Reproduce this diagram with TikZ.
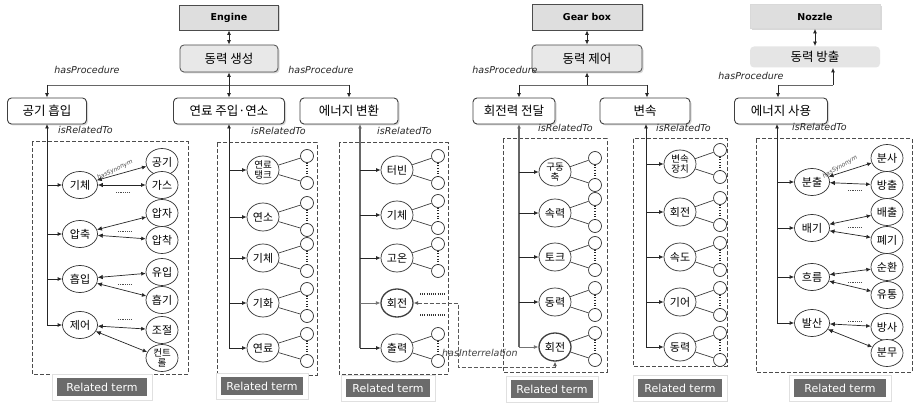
\documentclass[tikz,border=0pt]{standalone}
\usepackage{fontspec}
\setmainfont{DejaVu Sans}
\newfontfamily\krfont{Noto Sans CJK KR}
\usetikzlibrary{arrows.meta,shapes.geometric,shadows}

\tikzset{
  shd/.style={drop shadow={opacity=0.3, shadow xshift=1.5pt, shadow yshift=-1.5pt}},
  comp/.style={draw=black!70, line width=0.8pt, fill=black!13, minimum width=99pt,
    minimum height=25pt, inner sep=0pt, font=\bfseries\fontsize{9.5}{11}\selectfont, shd},
  fbase/.style={draw=black!70, line width=0.8pt, rounded corners=4pt, fill=black!9,
    minimum height=27pt, inner sep=0pt, font=\krfont\fontsize{12.5}{14}\selectfont},
  func/.style={fbase, shd},
  proc/.style={draw=black!75, line width=0.9pt, rounded corners=4pt, fill=white,
    minimum height=26pt, inner sep=0pt, font=\krfont\fontsize{12.5}{14}\selectfont, shd},
  ell/.style={ellipse, draw=black!80, line width=0.7pt, fill=white, inner sep=0pt,
    minimum width=32pt, minimum height=28pt, align=center,
    font=\krfont\fontsize{11}{11}\selectfont},
  ellB/.style={ell, minimum width=35pt, minimum height=27pt},
  ellS/.style={ell, minimum width=32pt, minimum height=27pt},
  one/.style={},
  two/.style={font=\krfont\fontsize{9.5}{9.5}\selectfont},
  hot/.style={line width=1.3pt, draw=black!75},
  sm/.style={circle, draw=black!80, line width=0.7pt, fill=white, minimum size=13pt, inner sep=0pt},
  relbox/.style={draw=black!70, line width=1pt, dash pattern=on 4pt off 2pt},
  link/.style={draw=black!75, line width=0.7pt},
  vdots/.style={draw=black!85, line width=1.2pt, dash pattern=on 1pt off 1.6pt},
  dotrow/.style={draw=black!70, line width=0.6pt, dash pattern=on 0.6pt off 1.2pt},
  hdots/.style={draw=black!80, line width=1.1pt, dash pattern=on 1pt off 1.2pt},
  arr/.style={-{Latex[length=4.5pt,width=4pt]}, line width=0.8pt, draw=black!85},
  rarr/.style={{Latex[length=4.5pt,width=4pt]}-, line width=0.8pt, draw=black!85},
  darr/.style={{Latex[length=4.5pt,width=4pt]}-{Latex[length=4.5pt,width=4pt]}, line width=0.8pt, draw=black!85},
  syn/.style={{Latex[length=5pt,width=4.5pt]}-{Latex[length=4.5pt,width=4pt]}, line width=0.7pt, draw=black!85},
  grey/.style={draw=black!55},
  trunkg/.style={line width=1.2pt, draw=black!60},
  hline/.style={line width=0.8pt, draw=black!60},
  irl/.style={{Latex[length=4.5pt,width=4pt]}-{Latex[length=4.5pt,width=4pt]},
    dash pattern=on 4pt off 2pt, line width=0.9pt, draw=black!65},
  lbl/.style={font=\itshape\fontsize{9.5}{10}\selectfont, inner sep=0pt, text=black!85},
  synlbl/.style={font=\itshape\fontsize{6}{7}\selectfont, inner sep=0pt, text=black!70},
  tframe/.style={fill=white, draw=black!12, line width=0.4pt, minimum width=100pt,
    minimum height=26pt, drop shadow={opacity=0.25, shadow xshift=1.2pt, shadow yshift=-1.2pt}},
  tlabel/.style={fill=black!58, text=white, minimum width=86pt, minimum height=18pt,
    inner sep=0pt, font=\fontsize{11}{12}\selectfont},
}

\begin{document}
\begin{tikzpicture}[x=1pt,y=-1pt]
\useasboundingbox[fill=white] (0,0) rectangle (917,406);

% ---------- Engine ----------
\node[comp] (eng) at (229,17.5) {Engine};
\node[func, minimum width=98pt] (f1) at (229,58.5) {동력 생성};
\draw[darr] (eng) -- (f1);
\node[proc, minimum width=79pt] (p1) at (47,111) {공기 흡입};
\node[proc, minimum width=111pt] (p2) at (229,111) {연료 주입·연소};
\node[proc, minimum width=98pt] (p3) at (349,111) {에너지 변환};
\coordinate (h1) at (229,85);
\draw[hline] (p1.north |- h1) -- (p3.north |- h1);
\draw[arr] (p1.north |- h1) -- (p1.north);
\draw[arr] (p3.north |- h1) -- (p3.north);
\draw[darr] (f1) -- (p2);
\node[lbl] (lp1) at (87,70) {hasProcedure};
\node[lbl] (lp2) at (321,70) {hasProcedure};

% ---------- Gear box ----------
\node[comp, minimum width=110pt, minimum height=26pt] (gb) at (587,17) {Gear box};
\node[func, minimum width=110pt] (f2) at (587,58.5) {동력 제어};
\draw[darr] (gb) -- (f2);
\node[proc, minimum width=82pt] (p4) at (514,111) {회전력 전달};
\node[proc, minimum width=90pt] (p5) at (645,111) {변속};
\coordinate (h2a) at (519,85);
\coordinate (h2b) at (647,85);
\draw[hline] (h2a) -- (h2b);
\draw[arr] (h2a) -- (h2a |- p4.north);
\draw[arr] (h2b) -- (h2b |- p5.north);
\draw[arr] (f2.south |- h2a) -- (f2.south);
\node[lbl] (lp3) at (505,70) {hasProcedure};

% ---------- Nozzle ----------
\node[comp, draw=black!15, minimum width=130pt, minimum height=24pt] (nz) at (815,16.5) {Nozzle};
\node[fbase, draw=none, fill=black!10, minimum width=130pt, minimum height=21pt] (f3) at (815,57) {동력 방출};
\draw[darr] (nz) -- (f3);
\node[proc, minimum width=93pt] (p6) at (781,111) {에너지 사용};
\coordinate (h3a) at (778,85);
\coordinate (h3b) at (833,85);
\draw[hline] (h3a) -- (h3b);
\draw[arr] (h3a) -- (h3a |- p6.north);
\draw[arr] (h3b) -- (h3b |- f3.south);
\node[lbl] (lp4) at (751,76) {hasProcedure};

% ---------- isRelatedTo labels ----------
\node[lbl, anchor=west] (lr1) at (58,130) {isRelatedTo};
\node[lbl, anchor=west] (lr2) at (251,131) {isRelatedTo};
\node[lbl, anchor=west] (lr3) at (377,131) {isRelatedTo};
\node[lbl, anchor=west] (lr4) at (538,128) {isRelatedTo};
\node[lbl, anchor=west] (lr5) at (656,128) {isRelatedTo};
\node[lbl, anchor=west] (lr6) at (792,127) {isRelatedTo};

% ---------- Related terms: air intake ----------
\draw[relbox] (32,142) rectangle (188,374);
\foreach \n/\y/\t in {1/185/기체,2/234/압축,3/279/흡입,4/325/제어}
  \node[ellB] (e1\n) at (80,\y) {\t};
\foreach \n/\y/\t/\s in {a/162/공기/one,b/185/가스/one,c/213/압자/one,d/240/압착/one,
    e/272/유입/one,f/300/흡기/one,g/330/조절/one,h/358/{컨트\\롤}/two}
  \node[ellS,\s] (s1\n) at (162,\y) {\t};
\coordinate (tr1) at (47,124);
\draw[rarr] (tr1) -- (tr1 |- e14);
\foreach \n in {1,...,4} \draw[arr] (tr1 |- e1\n) -- (e1\n);
\foreach \a/\b in {1/a,1/b,2/c,2/d,3/e,3/f,4/g,4/h} \draw[syn] (e1\a) -- (s1\b);
\foreach \x/\y in {123/192,125/231,125/284,125/319} \draw[dotrow] (\x-7,\y) -- (\x+7,\y);
\node[synlbl, rotate=26] (sy1) at (115,170) {hasSynonym};
\node[tframe] (t1) at (102,387) {};
\node[tlabel, minimum width=90pt] (tt1) at (t1) {Related\hspace{0.3em}term};

% ---------- Related terms: fuel injection / combustion ----------
\draw[relbox] (217,143) rectangle (317,375);
\foreach \n/\y/\t/\s in {1/170/{연료\\탱크}/two,2/217/연소/one,3/258/기체/one,4/303/기화/one,5/348/연료/one}
  \node[ell,\s] (e2\n) at (263,\y) {\t};
\coordinate (tr2) at (229,124);
\draw[rarr] (tr2) -- (tr2 |- e25);
\foreach \n/\y in {1/170,2/217,3/258,4/303,5/348}{
  \draw[arr] (tr2 |- e2\n) -- (e2\n);
  \node[sm] (u2\n) at (307,\y-14) {};
  \node[sm] (d2\n) at (307,\y+13) {};
  \draw[link] (e2\n) -- (u2\n);
  \draw[link] (e2\n) -- (d2\n);
  \draw[vdots] (u2\n) -- (d2\n);
}
\node[tframe, minimum width=92pt] (t2) at (262,386) {};
\node[tlabel, minimum width=82pt] (tt2) at (t2) {Related\hspace{0.3em}term};

% ---------- Related terms: energy conversion ----------
\draw[relbox] (339,143) rectangle (448,374);
\foreach \n/\y/\t in {1/170/터빈,2/215/기체,3/258/고온,5/348/출력}
  \node[ell] (e3\n) at (397,\y) {\t};
\node[ell, hot] (e34) at (397,303) {회전};
\coordinate (tr3) at (360,124);
\draw[rarr, trunkg] (tr3) -- (tr3 |- e35);
\foreach \n/\y in {1/170,2/215,3/258,5/348}{
  \draw[arr] (tr3 |- e3\n) -- (e3\n);
  \node[sm] (u3\n) at (438,\y-14) {};
  \node[sm] (d3\n) at (438,\y+13) {};
  \draw[link] (e3\n) -- (u3\n);
  \draw[link] (e3\n) -- (d3\n);
  \draw[vdots] (u3\n) -- (d3\n);
}
\draw[arr, grey] (tr3 |- e34) -- (e34);
\coordinate (q1) at (420,294);
\coordinate (q2) at (445,294);
\coordinate (q3) at (420,315);
\coordinate (q4) at (445,315);
\draw[hdots] (q1) -- (q2);
\draw[hdots] (q3) -- (q4);
\node[tframe, minimum width=94pt] (t3) at (388,388) {};
\node[tlabel, minimum width=84pt] (tt3) at (t3) {Related\hspace{0.3em}term};

% ---------- Related terms: torque transfer ----------
\draw[relbox] (503,139) rectangle (607,372);
\foreach \n/\y/\t/\s in {1/172/{구동\\축}/two,2/213/속력/one,3/257/토크/one,4/302/동력/one}
  \node[ell,\s] (e4\n) at (555,\y) {\t};
\node[ell, hot] (e45) at (555,347) {회전};
\coordinate (tr4) at (519,124);
\draw[rarr, trunkg] (tr4) -- (tr4 |- e45);
\foreach \n/\y in {1/172,2/213,3/257,4/302,5/347}{
  \node[sm] (u4\n) at (595,\y-14) {};
  \node[sm] (d4\n) at (595,\y+13) {};
  \draw[link] (e4\n) -- (u4\n);
  \draw[link] (e4\n) -- (d4\n);
  \draw[vdots] (u4\n) -- (d4\n);
}
\foreach \n in {1,...,4} \draw[arr] (tr4 |- e4\n) -- (e4\n);
\draw[arr, grey] (tr4 |- e45) -- (e45);
\node[tframe, minimum width=92pt] (t4) at (552,389) {};
\node[tlabel, minimum width=82pt] (tt4) at (t4) {Related\hspace{0.3em}term};

% ---------- interrelation between the two rotation terms ----------
\coordinate (ir1) at (458,303);
\coordinate (ir2) at (458,367);
\draw[irl] (e34) -- (ir1) -- (ir2) -| (e45);
\node[lbl, anchor=west, text=black!75] (irt) at (442,353) {hasInterrelation};

% ---------- Related terms: shifting ----------
\draw[relbox] (633,139) rectangle (727,366);
\foreach \n/\y/\t/\s in {1/164/{변속\\장치}/two,2/212/회전/one,3/257/속도/one,4/302/기어/one,5/347/동력/one}
  \node[ell,\s] (e5\n) at (680,\y) {\t};
\coordinate (tr5) at (646,124);
\draw[rarr] (tr5) -- (tr5 |- e55);
\foreach \n/\y in {1/164,2/212,3/257,4/302,5/347}{
  \draw[arr] (tr5 |- e5\n) -- (e5\n);
  \node[sm] (u5\n) at (720,\y-14) {};
  \node[sm] (d5\n) at (720,\y+13) {};
  \draw[link] (e5\n) -- (u5\n);
  \draw[link] (e5\n) -- (d5\n);
  \draw[vdots] (u5\n) -- (d5\n);
}
\node[tframe, minimum width=94pt] (t5) at (680,388) {};
\node[tlabel, minimum width=84pt] (tt5) at (t5) {Related\hspace{0.3em}term};

% ---------- Related terms: energy use ----------
\draw[relbox] (756,139) rectangle (912,372);
\foreach \n/\y/\t in {1/182/분출,2/228/배기,3/277/흐름,4/323/발산}
  \node[ellB] (e6\n) at (812,\y) {\t};
\foreach \n/\y/\t in {a/158/분사,b/185/방출,c/212/배출,d/240/폐기,e/267/순환,f/295/유통,g/327/방사,h/353/분무}
  \node[ellS] (s6\n) at (887,\y) {\t};
\coordinate (tr6) at (777,124);
\draw[rarr] (tr6) -- (tr6 |- e64);
\foreach \n in {1,...,4} \draw[arr] (tr6 |- e6\n) -- (e6\n);
\foreach \a/\b in {1/a,1/b,2/c,2/d,3/e,3/f,4/g,4/h} \draw[syn] (e6\a) -- (s6\b);
\foreach \x/\y in {855/190,855/227,855/282,855/321} \draw[dotrow] (\x-7,\y) -- (\x+7,\y);
\node[synlbl, rotate=30] (sy6) at (840,167) {hasSynonym};
\node[tframe, minimum width=102pt] (t6) at (840,388) {};
\node[tlabel, minimum width=92pt] (tt6) at (t6) {Related\hspace{0.3em}term};

\end{tikzpicture}
\end{document}
